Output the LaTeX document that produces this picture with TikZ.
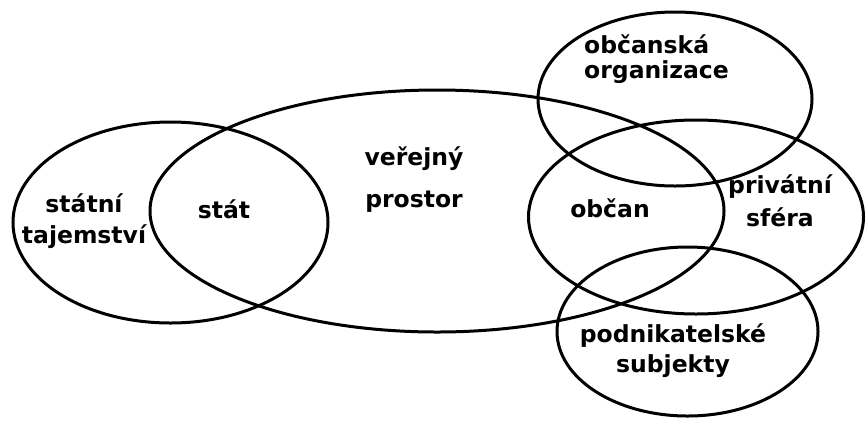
\documentclass[tikz,border=0pt]{standalone}
\usepackage{fontspec}
\newfontfamily\vennfont{DejaVu Sans}

\begin{document}
\begin{tikzpicture}[x=1pt, y=-1pt,
    set/.style={line width=3pt},
    venntext/.style={font=\vennfont\bfseries\fontsize{23.5}{31}\selectfont, align=center, anchor=base, inner sep=0pt}]
    \useasboundingbox (0,0) rectangle (866,421);

    % State secrets
    \draw[set] (170.5,222.5) ellipse [x radius=157.5pt, y radius=100.5pt];

    % Public space
    \draw[set] (437,211) ellipse [x radius=287pt, y radius=121pt];

    % Civic organisations
    \draw[set] (675,99) ellipse [x radius=137pt, y radius=87pt];

    % Private sphere
    \draw[set] (696,217) ellipse [x radius=167.5pt, y radius=97pt];

    % Businesses
    \draw[set] (687.5,331.5) ellipse [x radius=130.5pt, y radius=84.5pt];

    % Labels (base = last line)
    \node[venntext] (tajemstvi) at (84,243) {státní\\tajemství};
    \node[venntext] (stat) at (224,218) {stát};
    \node[venntext] (prostor) at (414,207) {veřejný\\[11pt]prostor};
    \node[venntext] (obcan) at (610,217) {občan};
    \node[venntext, align=left, anchor=base west] (organizace) at (584,78) {občanská\\[-6pt]organizace};
    \node[venntext] (privatni) at (780,226) {privátní\\[2pt]sféra};
    \node[venntext] (subjekty) at (673,372) {podnikatelské\\[-1pt]subjekty};
\end{tikzpicture}
\end{document}
